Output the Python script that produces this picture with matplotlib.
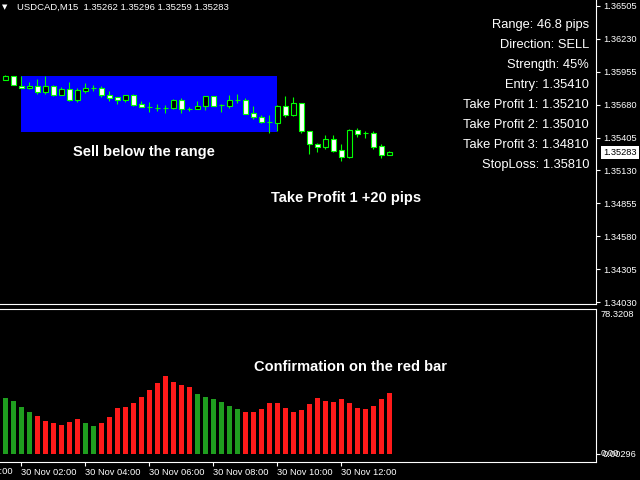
import matplotlib
matplotlib.use('Agg')
import matplotlib.pyplot as plt
import matplotlib.transforms as mtransforms
import numpy as np

# USDCAD M15 candles, 30 Nov 01:30 ... 13:30
opens = [1.35889, 1.35918, 1.35837, 1.35818, 1.35837, 1.35789, 1.35837, 1.35759, 1.35809, 1.35717,
         1.35795, 1.35820, 1.35818, 1.35762, 1.35745, 1.35722, 1.35762, 1.35689, 1.35664, 1.35656,
         1.35656, 1.35656, 1.35720, 1.35647, 1.35647, 1.35672, 1.35753, 1.35681, 1.35672, 1.35720,
         1.35720, 1.35614, 1.35580, 1.35539, 1.35530, 1.35670, 1.35597, 1.35692, 1.35457, 1.35352,
         1.35325, 1.35392, 1.35302, 1.35246, 1.35469, 1.35442, 1.35442, 1.35336, 1.35262]
highs = [1.35929, 1.35920, 1.35920, 1.35870, 1.35898, 1.35920, 1.35848, 1.35831, 1.35870, 1.35820,
         1.35862, 1.35845, 1.35837, 1.35795, 1.35747, 1.35762, 1.35770, 1.35712, 1.35703, 1.35686,
         1.35678, 1.35731, 1.35734, 1.35664, 1.35712, 1.35753, 1.35755, 1.35689, 1.35762, 1.35770,
         1.35737, 1.35670, 1.35597, 1.35597, 1.35681, 1.35753, 1.35745, 1.35695, 1.35461, 1.35363,
         1.35425, 1.35425, 1.35352, 1.35478, 1.35486, 1.35463, 1.35461, 1.35352, 1.35296]
lows = [1.35887, 1.35841, 1.35816, 1.35814, 1.35772, 1.35772, 1.35751, 1.35757, 1.35709, 1.35706,
        1.35776, 1.35795, 1.35747, 1.35714, 1.35689, 1.35706, 1.35672, 1.35659, 1.35622, 1.35630,
        1.35614, 1.35647, 1.35614, 1.35630, 1.35645, 1.35636, 1.35670, 1.35622, 1.35656, 1.35697,
        1.35603, 1.35559, 1.35530, 1.35447, 1.35463, 1.35580, 1.35586, 1.35447, 1.35269, 1.35288,
        1.35308, 1.35286, 1.35213, 1.35238, 1.35413, 1.35405, 1.35313, 1.35230, 1.35259]
closes = [1.35918, 1.35843, 1.35818, 1.35837, 1.35789, 1.35837, 1.35759, 1.35814, 1.35717, 1.35803,
          1.35820, 1.35819, 1.35759, 1.35739, 1.35722, 1.35762, 1.35678, 1.35664, 1.35663, 1.35655,
          1.35655, 1.35720, 1.35647, 1.35646, 1.35670, 1.35753, 1.35672, 1.35680, 1.35720, 1.35719,
          1.35605, 1.35580, 1.35539, 1.35538, 1.35670, 1.35597, 1.35692, 1.35457, 1.35350, 1.35325,
          1.35392, 1.35296, 1.35246, 1.35469, 1.35436, 1.35441, 1.35330, 1.35263, 1.35283]

# indicator histogram
osc = [30.4, 28.8, 25.6, 22.9, 20.7, 17.8, 16.9, 15.8, 17.5, 19.1,
       16.9, 15.3, 16.9, 20.2, 25.0, 25.6, 27.7, 31.0, 34.8, 38.5,
       42.3, 39.1, 37.5, 36.4, 32.6, 31.0, 29.9, 28.3, 26.1, 24.5,
       22.9, 22.9, 24.5, 27.7, 27.7, 25.0, 22.9, 24.0, 27.2, 30.4,
       28.8, 28.3, 29.9, 27.7, 25.0, 24.5, 26.1, 29.9, 33.1]
osc_state = "GGGGRRRRRRGGRRRRRRRRRRRRGGGGGGRRRRRRRRRRRRRRRRRRR"

# range box (bar index from/to, price top/bottom)
box_start, box_end = 2, 34
box_top, box_bottom = 1.35920, 1.35452

price_ticks = [1.36505, 1.36230, 1.35955, 1.35680, 1.35405, 1.35130, 1.34855, 1.34580, 1.34305, 1.34030]
time_pos = [2, 10, 18, 26, 34, 42]
time_labels = ['30 Nov 02:00', '30 Nov 04:00', '30 Nov 06:00', '30 Nov 08:00', '30 Nov 10:00', '30 Nov 12:00']

info_lines = ['Range: 46.8 pips', 'Direction: SELL', 'Strength: 45%', 'Entry: 1.35410',
              'Take Profit 1: 1.35210', 'Take Profit 2: 1.35010', 'Take Profit 3: 1.34810',
              'StopLoss: 1.35810']

header = 'USDCAD,M15  1.35262 1.35296 1.35259 1.35283'
last_price = closes[-1]

LIME = '#00ff00'
W, H = 640, 480
xl = (-5.3 / 8, (596 - 5.3) / 8)
TICK_FS = 6.7

fig = plt.figure(figsize=(6.4, 4.8), dpi=100, facecolor='black')
ax = fig.add_axes([0, 1 - 304 / H, 596 / W, 304 / H], facecolor='black')
ax2 = fig.add_axes([0, 1 - 462 / H, 596 / W, (462 - 309) / H], facecolor='black')

x = np.arange(len(opens))
o = np.array(opens); c = np.array(closes)

# range rectangle
ax.add_patch(plt.Rectangle((box_start, box_bottom), box_end - box_start, box_top - box_bottom,
                           facecolor='#0000ff', edgecolor='none', zorder=1))

# candles
ax.vlines(x, lows, highs, color=LIME, lw=0.8, zorder=2)
body_col = ['black' if cc > oo else 'white' for oo, cc in zip(o, c)]
hgt = c - o
hgt = np.where(np.abs(hgt) < 0.000005, 0.000001, hgt)
ax.bar(x, hgt, bottom=o, width=0.62, color=body_col, edgecolor=LIME, linewidth=0.8, zorder=3)

ax.set_xlim(*xl)
ax.set_ylim(1.36505 - 298.3 / 11972, 1.36505 + 6 / 11972)
ax.yaxis.tick_right()
ax.set_yticks(price_ticks)
ax.set_yticklabels(['%.5f' % p for p in price_ticks])
ax.tick_params(axis='y', colors='white', length=3, width=0.8, pad=2, labelsize=TICK_FS)
ax.set_xticks([])
for s in ['left', 'top']:
    ax.spines[s].set_visible(False)
for s in ['right', 'bottom']:
    ax.spines[s].set_color('white')
    ax.spines[s].set_linewidth(0.8)

# current price box
tr = mtransforms.blended_transform_factory(ax.transAxes, ax.transData)
ax.text(1.012, last_price, '%.5f' % last_price, transform=tr, fontsize=TICK_FS, color='black',
        va='center', ha='left', family='Liberation Sans',
        bbox=dict(boxstyle='square,pad=0.22', facecolor='white', edgecolor='none'))

# histogram
ax2.bar(x, osc, width=0.6, color=['#1f9e1f' if s == 'G' else '#ff1a1a' for s in osc_state], zorder=2)
ax2.set_xlim(*xl)
ax2.set_ylim(-4.32, 78.32)
ax2.yaxis.tick_right()
ax2.set_yticks([0.00296])
ax2.set_yticklabels(['0.00296'])
ax2.tick_params(axis='y', colors='white', length=3, width=0.8, pad=2, labelsize=TICK_FS)
ax2.text(1.008, 0.00296, '0.00', transform=mtransforms.blended_transform_factory(ax2.transAxes, ax2.transData),
         color='white', fontsize=TICK_FS, va='center', ha='left', family='Liberation Sans')
ax2.text(1.008, 0.995, '78.3208', transform=ax2.transAxes, color='white', fontsize=TICK_FS,
         va='top', ha='left', family='Liberation Sans')
ax2.set_xticks(time_pos)
ax2.set_xticklabels(time_labels, ha='left')
ax2.tick_params(axis='x', colors='white', length=3, width=0.8, pad=1.5, labelsize=TICK_FS)
ax2.text(-6, -0.03, '30 Nov 00:00', transform=mtransforms.blended_transform_factory(ax2.transData, ax2.transAxes),
         color='white', fontsize=TICK_FS, ha='left', va='top', family='Liberation Sans', clip_on=False)
ax2.spines['left'].set_visible(False)
for s in ['right', 'bottom', 'top']:
    ax2.spines[s].set_color('white')
    ax2.spines[s].set_linewidth(0.8)

for a in (ax, ax2):
    for lab in a.get_xticklabels() + a.get_yticklabels():
        lab.set_family('Liberation Sans')

# header
fig.text(5 / W, 1 - 7.5 / H, '\u25bc', color='white', fontsize=5, ha='center', va='center')
fig.text(17 / W, 1 - 7.5 / H, header, color='white', fontsize=6.8, ha='left', va='center',
         family='Liberation Sans')

# info panel
for i, line in enumerate(info_lines):
    fig.text(589 / W, 1 - (25 + 20 * i) / H, line, color='white', fontsize=9.3, ha='right',
             va='center', family='Liberation Sans')

# notes
for txt, px, py in [('Sell below the range', 144, 152), ('Take Profit 1 +20 pips', 346, 198),
                    ('Confirmation on the red bar', 351, 367)]:
    fig.text(px / W, 1 - py / H, txt, color='white', fontsize=10.5, fontweight='bold',
             ha='center', va='center', family='Liberation Sans')

fig.savefig('out.png', dpi=100, facecolor='black')
